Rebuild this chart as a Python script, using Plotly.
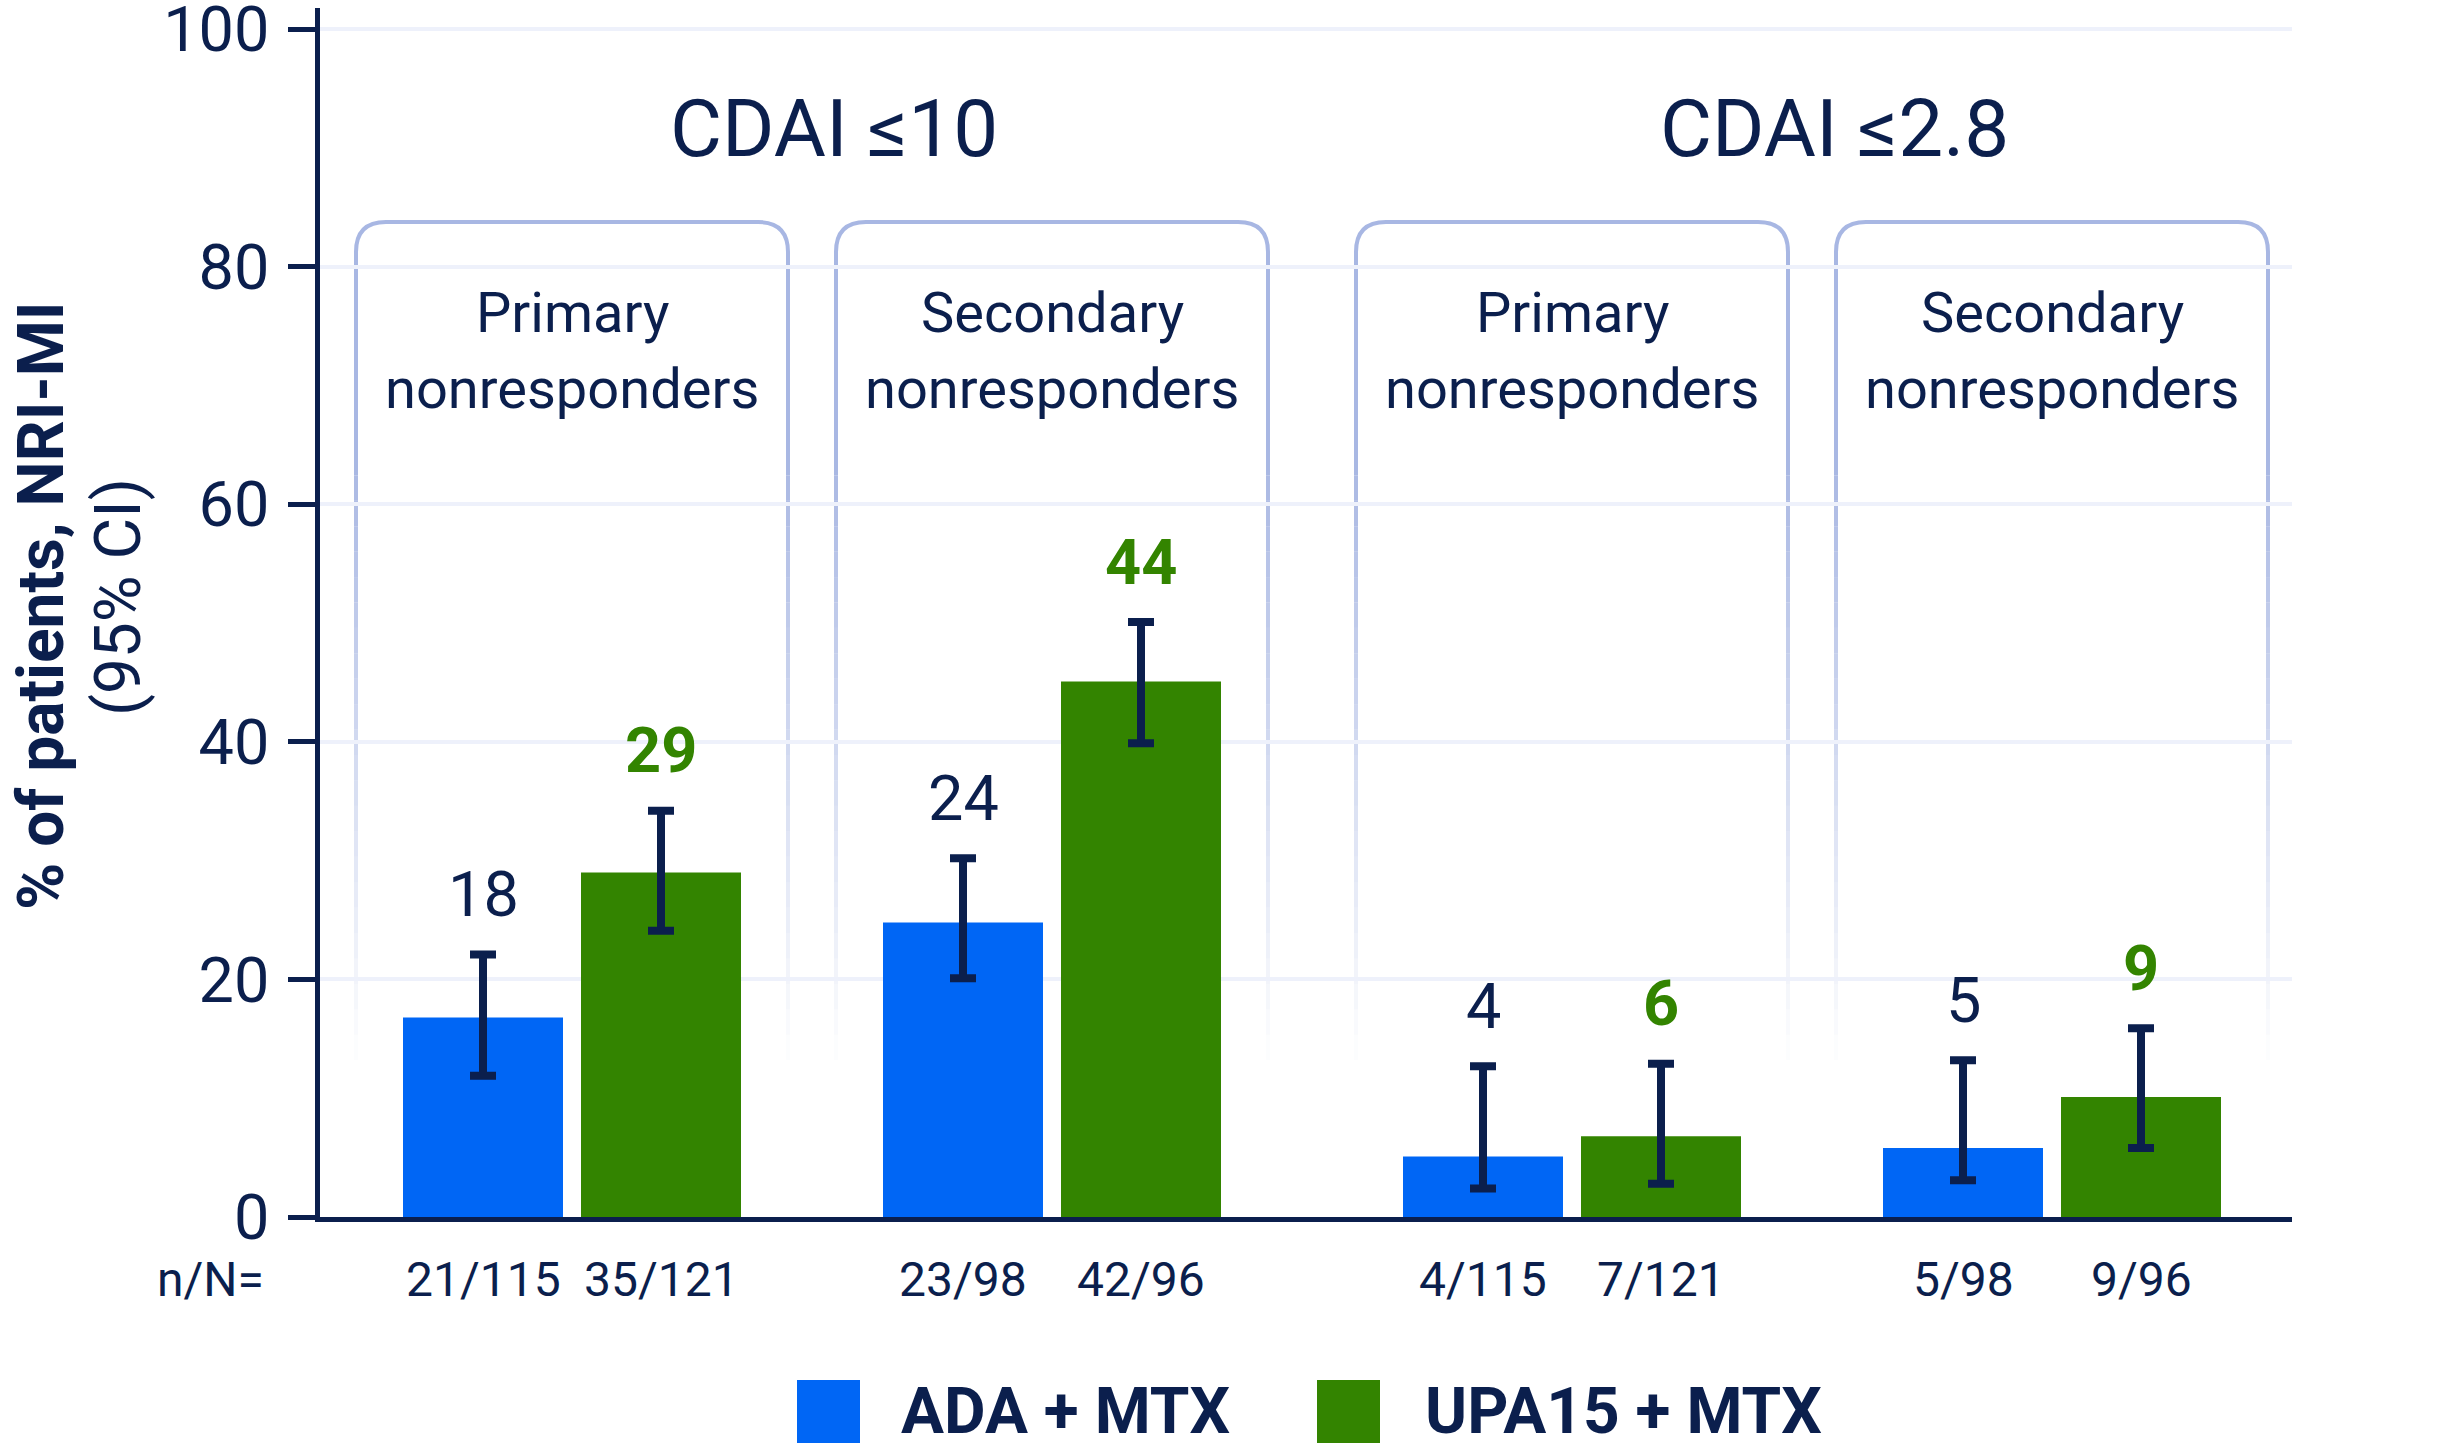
import plotly.graph_objects as go

# ---------------- data ----------------
group_titles = ["CDAI ≤10", "CDAI ≤2.8"]
subgroup_line1 = ["Primary", "Secondary", "Primary", "Secondary"]
subgroup_line2 = ["nonresponders", "nonresponders", "nonresponders", "nonresponders"]
series_names = ["ADA + MTX", "UPA15 + MTX"]

ada_values = [16.8, 24.8, 5.1, 5.8]
ada_ci_low = [11.9, 20.1, 2.4, 3.1]
ada_ci_high = [22.1, 30.2, 12.7, 13.2]
ada_labels = ["18", "24", "4", "5"]
ada_nN = ["21/115", "23/98", "4/115", "5/98"]

upa_values = [29.0, 45.1, 6.8, 10.1]
upa_ci_low = [24.1, 39.9, 2.8, 5.8]
upa_ci_high = [34.2, 50.1, 12.9, 15.9]
upa_labels = ["29", "44", "6", "9"]
upa_nN = ["35/121", "42/96", "7/121", "9/96"]

y_ticks = [0, 20, 40, 60, 80, 100]

# ---------------- style / layout ----------------
NAVY = "#0b1f4d"
BLUE = "#0066f5"
GREEN = "#338400"
BOXC = "#a8b7e3"
GRID = "#eef1fb"
FONT = "Roboto"

W, H = 2459, 1451
ML, MR, MT, MB = 320, 167, 8, 234
PW = W - ML - MR
PH = H - MT - MB


def pxx(px):
    return (px - ML) / PW


def pxy(py):
    return (H - MB - py) / PH


UNIT = 480.0
GAP = 40.0 / UNIT
positions = [i + (GAP if i >= 2 else 0.0) for i in range(len(ada_values))]
X0PX = 572.0
x_range = [(ML - X0PX) / UNIT, (W - MR - X0PX) / UNIT]


def data_to_px(x):
    return X0PX + x * UNIT


HALF = 178.0 / 2 / UNIT  # bar-center offset from group center (units)

fig = go.Figure()
fig.add_bar(
    x=positions, y=ada_values, name=series_names[0], marker_color=BLUE,
    marker_line_width=0, showlegend=False,
    error_y=dict(type="data", symmetric=False,
                 array=[h - v for h, v in zip(ada_ci_high, ada_values)],
                 arrayminus=[v - l for v, l in zip(ada_values, ada_ci_low)],
                 color=NAVY, thickness=8, width=13),
)
fig.add_bar(
    x=positions, y=upa_values, name=series_names[1], marker_color=GREEN,
    marker_line_width=0, showlegend=False,
    error_y=dict(type="data", symmetric=False,
                 array=[h - v for h, v in zip(upa_ci_high, upa_values)],
                 arrayminus=[v - l for v, l in zip(upa_values, upa_ci_low)],
                 color=NAVY, thickness=8, width=13),
)

shapes = []
annotations = []

# rounded boxes with fading sides
BOX_HALF = 216
BOX_TOP = 222
RAD = 30
SOLID_END = 450
FADE_END = 1060
for i, p in enumerate(positions):
    c = data_to_px(p)
    Lx, Rx = c - BOX_HALF, c + BOX_HALF
    path = (
        f"M {pxx(Lx)},{pxy(SOLID_END)} L {pxx(Lx)},{pxy(BOX_TOP + RAD)} "
        f"Q {pxx(Lx)},{pxy(BOX_TOP)} {pxx(Lx + RAD)},{pxy(BOX_TOP)} "
        f"L {pxx(Rx - RAD)},{pxy(BOX_TOP)} "
        f"Q {pxx(Rx)},{pxy(BOX_TOP)} {pxx(Rx)},{pxy(BOX_TOP + RAD)} "
        f"L {pxx(Rx)},{pxy(SOLID_END)}"
    )
    shapes.append(dict(type="path", path=path, xref="paper", yref="paper",
                       line=dict(color=BOXC, width=4), layer="below"))
    nseg = 24
    step = (FADE_END - SOLID_END) / nseg
    for k in range(nseg):
        y0 = SOLID_END + k * step
        y1 = y0 + step
        op = max(0.0, 1.0 - (k + 0.5) / nseg)
        for xx in (Lx, Rx):
            shapes.append(dict(type="line", xref="paper", yref="paper",
                               x0=pxx(xx), x1=pxx(xx), y0=pxy(y0), y1=pxy(y1),
                               line=dict(color=BOXC, width=4), opacity=op,
                               layer="below"))
    annotations.append(dict(xref="x", yref="paper", x=p, y=pxy(313),
                            text=subgroup_line1[i],
                            showarrow=False, xanchor="center", yanchor="middle",
                            font=dict(size=56, color=NAVY, family=FONT)))
    annotations.append(dict(xref="x", yref="paper", x=p, y=pxy(389),
                            text=subgroup_line2[i],
                            showarrow=False, xanchor="center", yanchor="middle",
                            font=dict(size=56, color=NAVY, family=FONT)))

# group titles
for gi, title in enumerate(group_titles):
    xc = (positions[2 * gi] + positions[2 * gi + 1]) / 2
    annotations.append(dict(xref="x", yref="paper", x=xc, y=pxy(129), xshift=22,
                            text=title, showarrow=False, xanchor="center",
                            yanchor="middle",
                            font=dict(size=80, color=NAVY, family=FONT)))

# value labels and n/N labels
for i, p in enumerate(positions):
    annotations.append(dict(xref="x", yref="y", x=p - HALF, y=ada_ci_high[i],
                            yshift=60, text=ada_labels[i], showarrow=False,
                            xanchor="center", yanchor="middle",
                            font=dict(size=63, color=NAVY, family=FONT)))
    annotations.append(dict(xref="x", yref="y", x=p + HALF, y=upa_ci_high[i],
                            yshift=60, text=f"<b>{upa_labels[i]}</b>",
                            showarrow=False, xanchor="center", yanchor="middle",
                            font=dict(size=63, color=GREEN, family=FONT)))
    annotations.append(dict(xref="x", yref="y", x=p - HALF, y=0, yshift=-62,
                            text=ada_nN[i], showarrow=False, xanchor="center",
                            yanchor="middle",
                            font=dict(size=48, color=NAVY, family=FONT)))
    annotations.append(dict(xref="x", yref="y", x=p + HALF, y=0, yshift=-62,
                            text=upa_nN[i], showarrow=False, xanchor="center",
                            yanchor="middle",
                            font=dict(size=48, color=NAVY, family=FONT)))

annotations.append(dict(xref="paper", yref="y", x=pxx(210), y=0, yshift=-62,
                        text="n/N=", showarrow=False, xanchor="center",
                        yanchor="middle",
                        font=dict(size=48, color=NAVY, family=FONT)))

# y-axis title (two lines)
annotations.append(dict(xref="paper", yref="paper", x=pxx(41), y=pxy(606),
                        text="<b>% of patients, NRI-MI</b>",
                        textangle=-90, showarrow=False, xanchor="center",
                        yanchor="middle",
                        font=dict(size=64, color=NAVY, family=FONT)))
annotations.append(dict(xref="paper", yref="paper", x=pxx(118), y=pxy(597),
                        text="(95% CI)",
                        textangle=-90, showarrow=False, xanchor="center",
                        yanchor="middle",
                        font=dict(size=64, color=NAVY, family=FONT)))

# manual legend
legend_items = [(797, 899, BLUE, series_names[0]), (1317, 1423, GREEN, series_names[1])]
for sq_x, tx, col, name in legend_items:
    shapes.append(dict(type="rect", xref="paper", yref="paper",
                       x0=pxx(sq_x), x1=pxx(sq_x + 63), y0=pxy(1443), y1=pxy(1380),
                       fillcolor=col, line=dict(width=0)))
    annotations.append(dict(xref="paper", yref="paper", x=pxx(tx), y=pxy(1411),
                            text=f"<b>{name}</b>", showarrow=False,
                            xanchor="left", yanchor="middle",
                            font=dict(size=64, color=NAVY, family=FONT)))

fig.update_layout(
    width=W, height=H,
    margin=dict(l=ML, r=MR, t=MT, b=MB, autoexpand=False),
    paper_bgcolor="white", plot_bgcolor="white",
    barmode="group", bargap=1 - 2 * 178.0 / UNIT, bargroupgap=1 - 160.0 / 178.0,
    font=dict(family=FONT, color=NAVY),
    shapes=shapes, annotations=annotations,
    showlegend=False,
    xaxis=dict(range=x_range, showgrid=False, zeroline=False,
               showticklabels=False, ticks="", showline=True,
               linecolor=NAVY, linewidth=5, layer="below traces"),
    yaxis=dict(range=[0, 101.8], tickvals=y_ticks, ticks="outside",
               ticklen=27, tickwidth=5, tickcolor=NAVY, showline=True,
               linecolor=NAVY, linewidth=5, gridcolor=GRID, gridwidth=4,
               zeroline=False, ticklabelstandoff=6, ticklabeloverflow="allow",
               tickfont=dict(size=63, color=NAVY, family=FONT),
               layer="below traces"),
)

fig.write_html("out.html")
